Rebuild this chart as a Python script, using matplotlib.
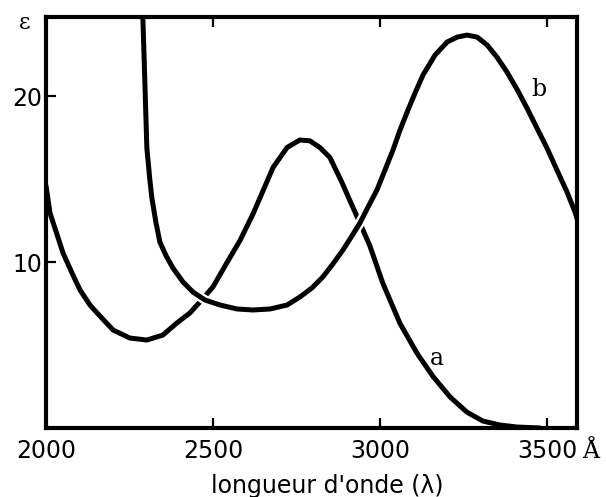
import matplotlib
matplotlib.use('Agg')
import matplotlib.pyplot as plt
import matplotlib.patheffects as pe

# curve a (wavelength in angstrom, epsilon)
wl_a=[2000,2012,2051,2081,2102,2132,2153,2201,2251,2302,2350,2392,2431,2461,2500,2540,2581,2620,2650,2680,2722,2760,2790,2820,2850,2886,2910,2940,2970,3009,3060,3111,3159,3210,3260,3308,3359,3410,3479]
eps_a=[14.6,12.95,10.54,9.2,8.31,7.4,6.93,5.9,5.42,5.3,5.6,6.33,6.93,7.6,8.5,9.9,11.3,12.9,14.3,15.7,16.9,17.35,17.3,16.9,16.3,14.8,13.7,12.35,10.96,8.7,6.3,4.5,3.1,1.87,0.96,0.42,0.18,0.06,0.0]

# curve b
wl_b=[2288,2290,2296,2302,2311,2317,2329,2341,2359,2380,2410,2440,2476,2521,2572,2620,2671,2722,2760,2796,2829,2859,2889,2916,2940,2964,2991,3015,3039,3060,3084,3105,3129,3165,3201,3231,3261,3291,3321,3350,3380,3410,3440,3470,3500,3530,3560,3584,3599]
eps_b=[25.5,24.76,20.84,16.87,14.94,13.86,12.4,11.2,10.4,9.64,8.8,8.19,7.71,7.41,7.17,7.11,7.17,7.41,7.89,8.43,9.1,9.88,10.72,11.57,12.35,13.3,14.34,15.54,16.75,17.95,19.16,20.18,21.27,22.47,23.25,23.55,23.67,23.55,23.07,22.35,21.45,20.42,19.28,18.07,16.87,15.54,14.22,13.01,12.05]

xticks=[2000,2500,3000,3500]
yticks=[10,20]

fig=plt.figure(figsize=(6.06,4.97),dpi=100)
ax=fig.add_axes([46/606,1-428/497,531/606,411/497])

ax.plot(wl_a,eps_a,color='black',lw=3.6,solid_joinstyle='round',solid_capstyle='round')
ax.plot(wl_b,eps_b,color='black',lw=3.6,solid_joinstyle='round',solid_capstyle='round',
        path_effects=[pe.Stroke(linewidth=7,foreground='white'),pe.Normal()])

ax.set_xlim(2000,3590)
ax.set_ylim(0,24.76)
ax.set_xticks(xticks)
ax.set_yticks(yticks)
ax.tick_params(direction='in',length=7,width=1.6,labelsize=17,colors='black',top=True)
ax.tick_params(axis='x',pad=8)
ax.tick_params(axis='y',pad=3)
for s in ax.spines.values():
    s.set_linewidth(3)

ax.text(3171,4.2,'a',fontsize=17,family='DejaVu Serif',ha='center',va='center')
ax.text(3476,20.4,'b',fontsize=17,family='DejaVu Serif',ha='center',va='center')
fig.text(25/606,1-23/497,'ε',fontsize=16,family='DejaVu Serif',ha='center',va='center')
fig.text(591/606,1-458/497,'Å',fontsize=17,family='DejaVu Serif',ha='center',va='baseline')
fig.text(327/606,1-493/497,"longueur d'onde (λ)",fontsize=17,ha='center',va='baseline')

plt.savefig('out.png',dpi=100)
